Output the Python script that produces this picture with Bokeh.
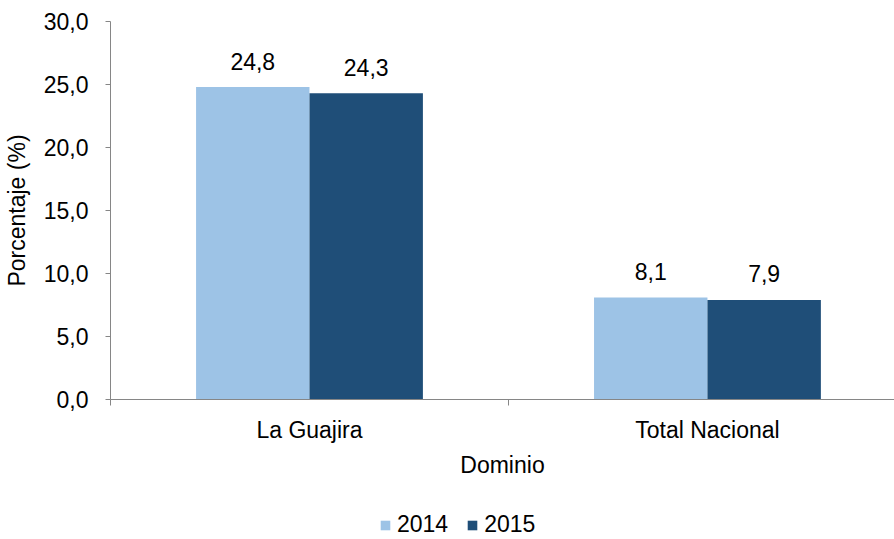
from bokeh.plotting import figure
from bokeh.models import (Range1d, FixedTicker, CustomJSTickFormatter, Legend, LegendItem,
                          ColumnDataSource)
from bokeh.layouts import column
from bokeh.core.properties import value
from bokeh.embed import file_html
from bokeh.resources import INLINE

categories = ["La Guajira", "Total Nacional"]
series_names = ["2014", "2015"]
values_2014 = [24.8, 8.1]
values_2015 = [24.3, 7.9]
y_ticks = [0, 5, 10, 15, 20, 25, 30]
colors = ["#9DC3E6", "#1F4E78"]

FONT = "Liberation Sans"
FS = "23px"
W = 894
MAIN_H = 495
LEG_H = 44

p = figure(width=W, height=MAIN_H, output_backend="svg", toolbar_location=None,
           x_range=Range1d(0, 1.97), y_range=Range1d(0, 30),
           min_border_left=110, min_border_right=0, min_border_top=21, min_border_bottom=96)
p.outline_line_color = None
p.xgrid.visible = False
p.ygrid.visible = False
p.background_fill_color = "white"
p.border_fill_color = "white"

bar_w = 0.285
sources = []
for k, (name, vals) in enumerate(zip(series_names, [values_2014, values_2015])):
    xs = [i + 0.5 + (k - 0.5) * bar_w for i in range(len(categories))]
    labels = [f"{v:.1f}".replace(".", ",") for v in vals]
    src = ColumnDataSource(dict(x=xs, top=vals, label=labels))
    sources.append(src)
    p.vbar(x="x", top="top", width=bar_w, bottom=0, source=src,
           fill_color=colors[k], line_color=None)
    p.text(x="x", y="top", text="label", source=src, text_align="center",
           text_baseline="alphabetic", y_offset=-26, text_font=value(FONT),
           text_font_size=FS, text_color="black")

# y axis
ya = p.yaxis[0]
ya.ticker = FixedTicker(ticks=y_ticks, minor_ticks=[])
ya.formatter = CustomJSTickFormatter(code="return tick.toFixed(1).replace('.', ',');")
ya.axis_line_color = "#868686"
ya.major_tick_line_color = "#868686"
ya.major_tick_out = 5
ya.major_tick_in = 0
ya.minor_tick_line_color = None
ya.major_label_text_font = FONT
ya.major_label_text_font_size = FS
ya.major_label_text_color = "black"
ya.major_label_standoff = 17
ya.axis_label = "Porcentaje (%)"
ya.axis_label_text_font = FONT
ya.axis_label_text_font_size = FS
ya.axis_label_text_font_style = "normal"
ya.axis_label_text_color = "black"
ya.axis_label_standoff = 11

# x axis
xa = p.xaxis[0]
xa.ticker = FixedTicker(ticks=[i + 0.5 for i in range(len(categories))],
                        minor_ticks=list(range(len(categories) + 1)))
xa.formatter = CustomJSTickFormatter(args=dict(cats=categories),
                                     code="return cats[Math.floor(tick)];")
xa.axis_line_color = "#868686"
xa.major_tick_line_color = None
xa.major_tick_out = 5
xa.major_tick_in = 0
xa.minor_tick_line_color = "#868686"
xa.minor_tick_out = 6
xa.minor_tick_in = 0
xa.major_label_text_font = FONT
xa.major_label_text_font_size = FS
xa.major_label_text_color = "black"
xa.major_label_standoff = 11
xa.axis_label = "Dominio"
xa.axis_label_text_font = FONT
xa.axis_label_text_font_size = FS
xa.axis_label_text_font_style = "normal"
xa.axis_label_text_color = "black"
xa.axis_label_standoff = 6

# legend strip below the chart (its bars lie outside its visible range)
p2 = figure(width=W, height=LEG_H, output_backend="svg", toolbar_location=None,
            x_range=Range1d(0, 1.97), y_range=Range1d(1000, 1001),
            x_axis_type=None, y_axis_type=None,
            min_border_left=110, min_border_right=0, min_border_top=0, min_border_bottom=0)
p2.outline_line_color = None
p2.xgrid.visible = False
p2.ygrid.visible = False
p2.background_fill_color = "white"
p2.border_fill_color = "white"
leg_renderers = []
for k, src in enumerate(sources):
    r = p2.vbar(x="x", top="top", width=bar_w, bottom=0, source=src,
                fill_color=colors[k], line_color=None)
    leg_renderers.append(r)

legend = Legend(items=[LegendItem(label=n, renderers=[r]) for n, r in zip(series_names, leg_renderers)],
                orientation="horizontal", location=(269, 1),
                glyph_width=12, glyph_height=12, label_standoff=6, spacing=18,
                padding=0, margin=0, border_line_color=None, background_fill_alpha=0,
                label_text_font=FONT, label_text_font_size=FS, label_text_color="black")
p2.add_layout(legend, "center")

layout = column(p, p2, spacing=0)
open("out.html", "w").write(file_html(layout, INLINE))
